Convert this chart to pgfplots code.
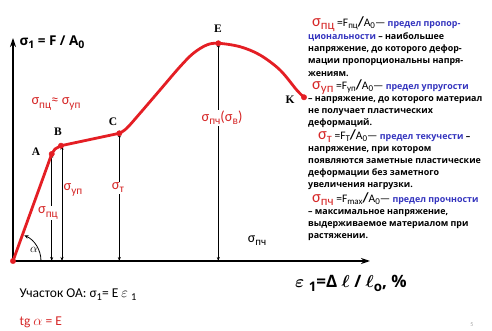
\documentclass[border=0pt]{standalone}
\usepackage{pgfplots}
\pgfplotsset{compat=1.18}
\usepackage{fontspec}
\usetikzlibrary{arrows.meta}
\setmainfont{Carlito}
\newfontfamily\blk{Open Sans}
\newfontfamily\serifb{Liberation Serif}
\definecolor{curvered}{RGB}{228,30,36}
\definecolor{sigred}{RGB}{214,40,40}
\definecolor{textblue}{RGB}{52,52,190}
\newcommand\sub[1]{\raisebox{-0.45ex}{\scalebox{0.78}{#1}}}
% head of a definition: red sigma, then =F_x/A_0 in plain weight
\newcommand\defhead[2]{{\normalfont\fontsize{16.5}{16.5}\selectfont\color{sigred}σ\sub{#1}}%
  {\normalfont\fontsize{11.5}{11.5}\selectfont\ =F\sub{#2}{\bfseries\fontsize{14}{14}\selectfont/}A\sub{0}—}}

\begin{document}
\begin{tikzpicture}
\begin{axis}[
    width=357pt, height=223pt, scale only axis,
    xmin=0, xmax=357, ymin=0, ymax=223,
    axis lines=left,
    axis line style={line width=1.3pt, -{Stealth[length=9pt,width=6pt]}},
    xtick=\empty, ytick=\empty,
    clip=false
]
% page frame (492 x 331)
\path (axis cs:-13,-70) rectangle (axis cs:479,261);

% vertical double arrows
\foreach \xx/\yy in {38.7/107, 49/115.3, 106.3/127.7, 205.3/217.7} {
  \edef\tmp{\noexpand\draw[line width=0.6pt, {Stealth[length=4pt,width=3pt]}-{Stealth[length=4pt,width=3pt]}]
    (axis cs:\xx,0) -- (axis cs:\xx,\yy);}
  \tmp
}

% stress-strain curve
\addplot[curvered, line width=2.8pt, line join=round]
  coordinates {(0,0) (38.7,107) (42,112) (48,115.3) (106.3,127.7)};
\addplot[curvered, line width=2.8pt, smooth, tension=0.55]
  coordinates {(106.3,127.7) (113.7,132.7) (127,147.7) (147,171) (167,194.3)
               (180.3,207.7) (193.7,216) (205.3,217.7) (227,214.3) (247,206)
               (267,191) (283.7,171) (291,163.7)};
\addplot[only marks, mark=*, mark size=2.7pt, curvered]
  coordinates {(0,0) (38.7,107) (48,115.3) (106.3,127.7) (205.3,217.7) (291,163.7)};

% angle alpha
\draw[line width=0.8pt, -{Stealth[length=4pt,width=3.5pt]}] (axis cs:28,0) arc[start angle=0, end angle=66, radius=28pt];
\node at (axis cs:21,11) {\fontsize{13}{13}\selectfont$\alpha$};

% point letters
\node[font=\serifb\bfseries\fontsize{11.5}{11.5}\selectfont] at (axis cs:23,109) {A};
\node[font=\serifb\bfseries\fontsize{11.5}{11.5}\selectfont] at (axis cs:45,129) {B};
\node[font=\serifb\bfseries\fontsize{11.5}{11.5}\selectfont] at (axis cs:100,139) {C};
\node[font=\serifb\bfseries\fontsize{11.5}{11.5}\selectfont] at (axis cs:205,232) {E};
\node[font=\serifb\bfseries\fontsize{11.5}{11.5}\selectfont] at (axis cs:277,161) {K};

% red labels
\node[text=sigred, font=\fontsize{14.5}{14.5}\selectfont] at (axis cs:43,157) {σ\sub{пц}≈ σ\sub{уп}};
\node[text=sigred, fill=white, inner sep=1pt, font=\fontsize{14.5}{14.5}\selectfont] at (axis cs:209,143) {σ\sub{пч}(σ\sub{в})};
\node[text=sigred, fill=white, inner sep=1pt, font=\fontsize{14.5}{14.5}\selectfont] at (axis cs:105,73) {σ\sub{т}};
\node[text=sigred, fill=white, inner sep=1pt, font=\fontsize{14.5}{14.5}\selectfont] at (axis cs:60,71) {σ\sub{уп}};
\node[text=sigred, fill=white, inner sep=1pt, font=\fontsize{14.5}{14.5}\selectfont] at (axis cs:35,48) {σ\sub{пц}};
\node[font=\fontsize{14}{14}\selectfont] at (axis cs:244,20) {σ\sub{пч}};

% axis labels
\node[anchor=west, font=\blk\bfseries\fontsize{13.5}{13.5}\selectfont] at (axis cs:3,219) {σ\sub{1} = F / A\sub{0}};
\node[font=\blk\bfseries\fontsize{17}{17}\selectfont] at (axis cs:338,-22)
  {{\boldmath$\varepsilon$} \sub{1}=Δ {\boldmath$\ell$} / {\boldmath$\ell$}\sub{o}, \%};

% formulas below
\node[anchor=west, font=\fontsize{13.5}{13.5}\selectfont] at (axis cs:3,-34) {Участок ОА: σ\sub{1}= E $\varepsilon$ \sub{1}};
\node[anchor=west, text=sigred, font=\fontsize{13.5}{13.5}\selectfont] at (axis cs:3,-61) {tg $\alpha$ = E};

% definitions
\node[anchor=north west, align=left, inner sep=0pt,
      font=\blk\bfseries\fontsize{8.9}{12.2}\selectfont] at (axis cs:295,245) {%
\hspace*{4pt}\defhead{пц}{пц} {\color{textblue}предел пропор-}\\
{\color{textblue}циональности} – наибольшее\\
напряжение, до которого дефор-\\
мации пропорциональны напря-\\
жениям.\\[1pt]
\hspace*{4pt}\defhead{уп}{уп} {\color{textblue}предел упругости}\\
– напряжение, до которого материал\\
не получает пластических\\
деформаций.\\[1pt]
\hspace*{10pt}\defhead{т}{Т} {\color{textblue}предел текучести} –\\
напряжение, при котором\\
появляются заметные пластические\\
деформации без заметного\\
увеличения нагрузки.\\[2pt]
\hspace*{4pt}\defhead{пч}{max} {\color{textblue}предел прочности}\\
– максимальное напряжение,\\
выдерживаемое материалом при\\
растяжении.};

\node[text=black!35, font=\fontsize{6}{6}\selectfont] at (axis cs:459,-64) {5};
\end{axis}
\end{tikzpicture}
\end{document}
